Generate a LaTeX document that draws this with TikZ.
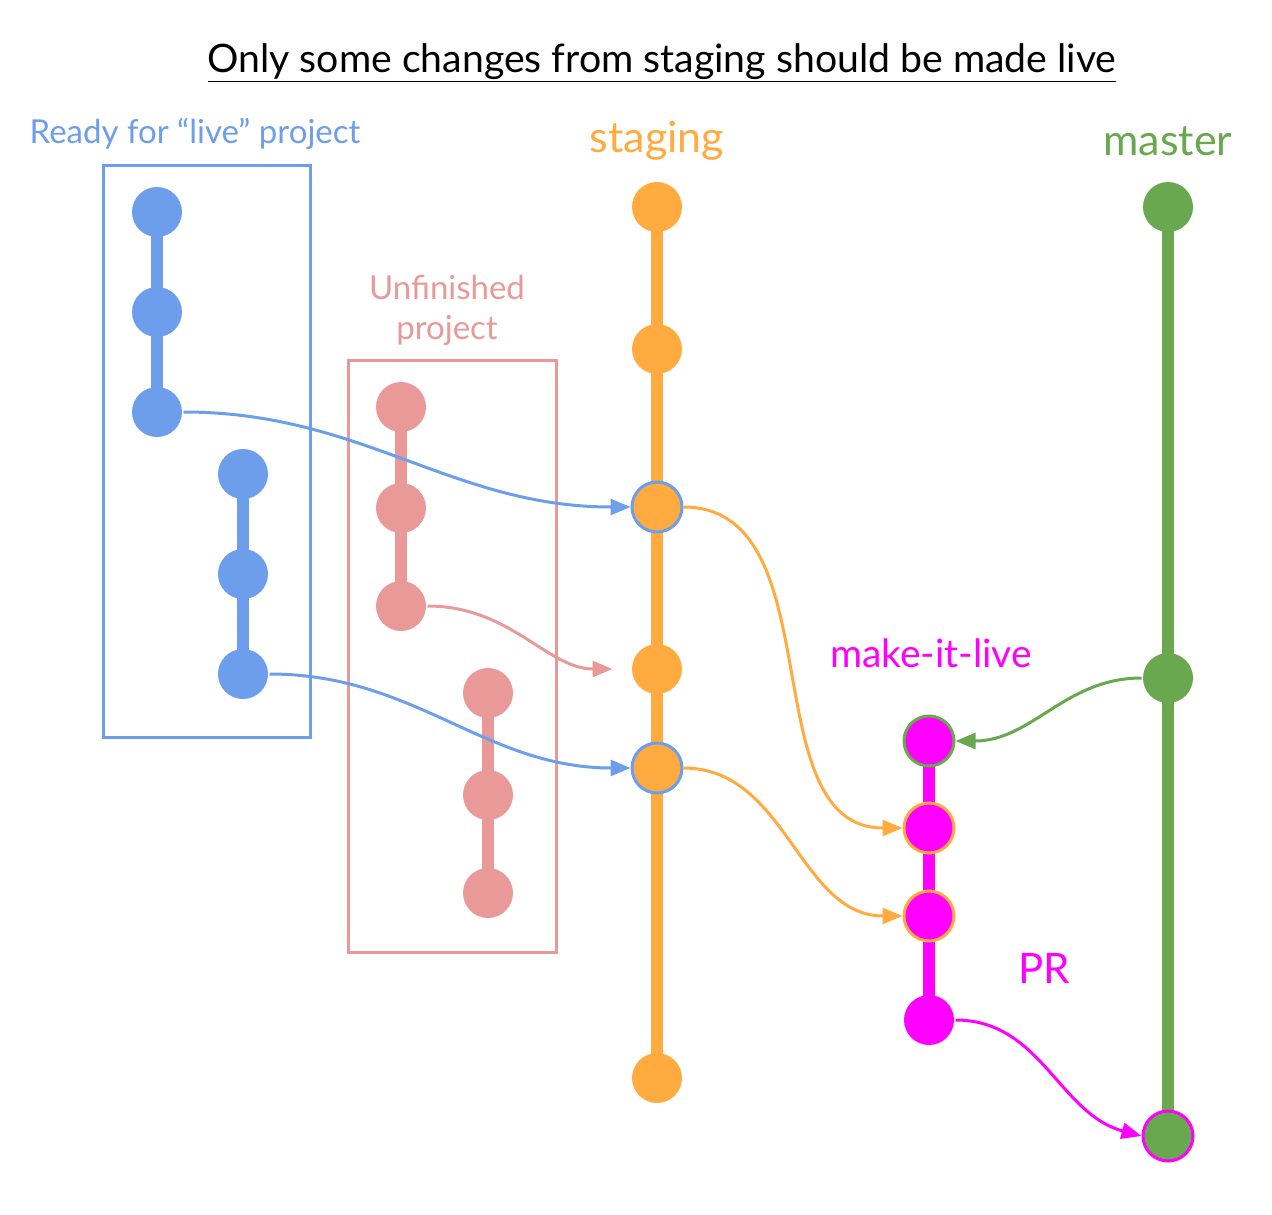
\documentclass[tikz,border=0pt]{standalone}
\usepackage{fontspec}
\setmainfont{Lato}
\usetikzlibrary{positioning,arrows.meta,backgrounds}
\definecolor{liveblue}{HTML}{6D9EEB}
\definecolor{unfpink}{HTML}{EA9999}
\definecolor{stagorange}{HTML}{FFAB40}
\definecolor{mastgreen}{HTML}{6AA84F}
\definecolor{mkmagenta}{HTML}{FF00FF}
\tikzset{
    commit/.style={
        circle,
        minimum size=50pt,
        inner sep=0,
        line width=3pt % 提交点的边框
    },
    bluenode/.style={commit, fill=liveblue},
    pinknode/.style={commit, fill=unfpink},
    orangenode/.style={commit, fill=stagorange},
    greennode/.style={commit, fill=mastgreen},
    magentanode/.style={commit, fill=mkmagenta},
    branchline/.style={line width=11.5pt},
    mergearrow/.style={
        line width=3pt,
        -{Triangle[length=20pt,width=16pt]}
    },
    groupbox/.style={line width=3pt}
}

\begin{document}
\begin{tikzpicture}[x=1pt,y=-1pt]
    \useasboundingbox (0,0) rectangle (1272,1215);

    % 标题
    \node (title) at (662,63) {\fontsize{39.2}{46}\selectfont\underline{Only some changes from staging should be made live}};

    % ready for live
    \node[text=liveblue, font=\fontsize{33}{38}\selectfont] (readylbl) at (195,134) {Ready for “live” project};
    \draw[groupbox, liveblue] (103,165) rectangle (310,737);
    \node[bluenode] (a1) at (157,212) {};
    \node[bluenode] (a2) at (157,312) {};
    \node[bluenode] (a3) at (157,412) {};
    \node[bluenode] (b1) at (243,474) {};
    \node[bluenode] (b2) at (243,574) {};
    \node[bluenode] (b3) at (243,674) {};

    % unfinished
    \node[text=unfpink, align=center, font=\fontsize{33}{40}\selectfont] (unflbl) at (447,310) {Unfinished\\project};
    \draw[groupbox, unfpink] (348,360) rectangle (556,952);
    \node[pinknode] (c1) at (401,407) {};
    \node[pinknode] (c2) at (401,508) {};
    \node[pinknode] (c3) at (401,606) {};
    \node[pinknode] (d1) at (488,693) {};
    \node[pinknode] (d2) at (488,795) {};
    \node[pinknode] (d3) at (488,893) {};

    % staging
    \node[text=stagorange, font=\fontsize{43}{48}\selectfont] (staglbl) at (657,141) {staging};
    \node[orangenode] (s1) at (657,207) {};
    \node[orangenode] (s2) at (657,349) {};
    \node[orangenode, draw=liveblue] (s3) at (657,507) {};
    \node[orangenode] (s4) at (657,669) {};
    \node[orangenode, draw=liveblue] (s5) at (657,768) {};
    \node[orangenode] (s6) at (657,1078) {};

    % master
    \node[text=mastgreen, font=\fontsize{43}{48}\selectfont] (mastlbl) at (1168,141) {master};
    \node[greennode] (m1) at (1168,207) {};
    \node[greennode] (m2) at (1168,678) {};
    \node[greennode, draw=mkmagenta] (m3) at (1168,1136) {};

    % make-it-live
    \node[text=mkmagenta, font=\fontsize{39}{44}\selectfont] (mklbl) at (931,653) {make-it-live};
    \node[magentanode, draw=mastgreen] (k1) at (929,741) {};
    \node[magentanode, draw=stagorange] (k2) at (929,828) {};
    \node[magentanode, draw=stagorange] (k3) at (929,916) {};
    \node[magentanode] (k4) at (929,1020) {};
    \node[text=mkmagenta, font=\fontsize{42}{48}\selectfont] (prlbl) at (1044,968) {PR};

    % 分支线放在背景层
    \begin{pgfonlayer}{background}
        \draw[branchline, liveblue] (a1.center) -- (a2.center) -- (a3.center);
        \draw[branchline, liveblue] (b1.center) -- (b2.center) -- (b3.center);
        \draw[branchline, unfpink] (c1.center) -- (c2.center) -- (c3.center);
        \draw[branchline, unfpink] (d1.center) -- (d2.center) -- (d3.center);
        \draw[branchline, stagorange] (s1.center) -- (s6.center);
        \draw[branchline, mastgreen] (m1.center) -- (m3.center);
        \draw[branchline, mkmagenta] (k1.center) -- (k4.center);
    \end{pgfonlayer}

    % 合并箭头
    \draw[mergearrow, liveblue] (a3.east) to[out=0, in=180] (s3.west);
    \draw[mergearrow, liveblue] (b3.east) to[out=0, in=180] (s5.west);
    \draw[mergearrow, unfpink, shorten >=18pt] (c3.east) to[out=0, in=180] (s4.west);
    \draw[mergearrow, stagorange] (s3.east) to[out=0, in=180] (k2.west);
    \draw[mergearrow, stagorange] (s5.east) to[out=0, in=180] (k3.west);
    \draw[mergearrow, mastgreen] (m2.west) to[out=180, in=0] (k1.east);
    \draw[mergearrow, mkmagenta] (k4.east) to[out=0, in=165] (m3.west);
\end{tikzpicture}
\end{document}
